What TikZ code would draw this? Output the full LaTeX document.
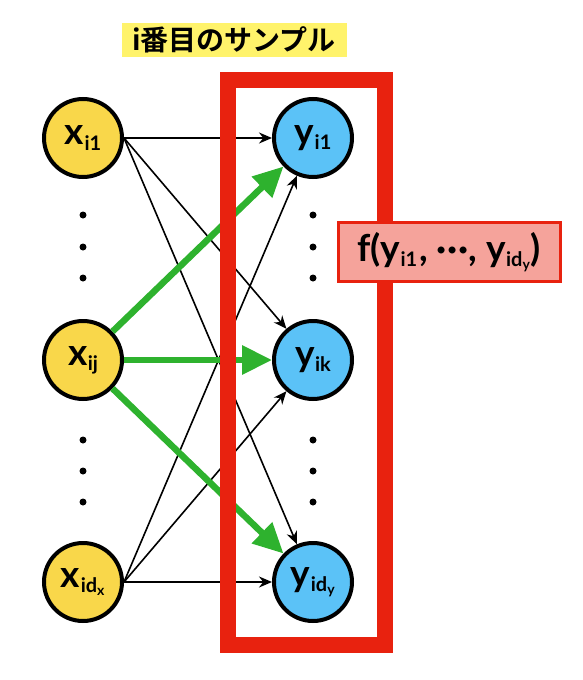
\documentclass[tikz,border=0pt]{standalone}
\usepackage{fontspec}
\setmainfont{Lato}
\newfontfamily\jp{Noto Sans CJK JP}[BoldFont={* Bold}]
\usetikzlibrary{arrows.meta}
\definecolor{ylw}{HTML}{F9D74A}
\definecolor{blu}{HTML}{5BC2F7}
\definecolor{grn}{HTML}{2EB22E}
\definecolor{frm}{HTML}{E8220F}
\definecolor{lbl}{HTML}{F5A39B}
\definecolor{ttl}{HTML}{FFF36B}
\newcommand{\sbs}[1]{\raisebox{-0.14em}{\fontsize{20}{20}\selectfont\kern0.5pt #1}}
\begin{document}
\begin{tikzpicture}[x=1pt,y=-1pt,
  var/.style={circle,draw=black,line width=4pt,minimum size=78pt,inner sep=0pt,font=\bfseries\fontsize{37}{37}\selectfont},
  xnode/.style={var,fill=ylw},
  ynode/.style={var,fill=blu},
  thin/.style={line width=1.6pt,-{Stealth[length=13pt,width=11pt]}},
  thick/.style={grn,line width=6.5pt,-{Triangle[length=30pt,width=28pt]}},
  dot/.style={circle,fill=black,minimum size=7pt,inner sep=0pt}]
\useasboundingbox (0,0) rectangle (582,680);
\node[xnode] (x1) at (83,138) {x\sbs{i1}};
\node[xnode] (xj) at (83,360) {x\sbs{ij}};
\node[xnode] (xd) at (83,582) {x\sbs{id\textsubscript{x}}};
\node[ynode] (y1) at (313,138) {y\sbs{i1}};
\node[ynode] (yk) at (313,360) {y\sbs{ik}};
\node[ynode] (yd) at (313,582) {y\sbs{id\textsubscript{y}}};
\foreach \yy [count=\n] in {215,247,278,440,471,502}{
  \node[dot] (ld\n) at (83,\yy) {};
  \node[dot] (rd\n) at (313,\yy) {};
}
\foreach \s in {x1,xd}{
  \foreach \t in {y1,yk,yd}{
    \draw[thin] (\s.east) -- (\t);
  }
}
\foreach \t in {y1,yk,yd}{
  \draw[thick] (xj) -- (\t);
}
\draw[frm,line width=16pt] (228,80) rectangle (385,645);
\node[draw=frm,fill=lbl,line width=3pt,minimum width=222pt,minimum height=59pt,inner sep=0pt,font=\bfseries\fontsize{37}{37}\selectfont] (f) at (449,252)
  {f(y\sbs{i1}\kern2pt, \textperiodcentered\kern0.5pt\textperiodcentered\kern0.5pt\textperiodcentered, y\sbs{id\textsubscript{y}})};
\node[fill=ttl,minimum width=225pt,minimum height=34pt,inner sep=0pt,font=\jp\bfseries\fontsize{28}{28}\selectfont] (t) at (234,40) {i番目のサンプル};
\end{tikzpicture}
\end{document}
